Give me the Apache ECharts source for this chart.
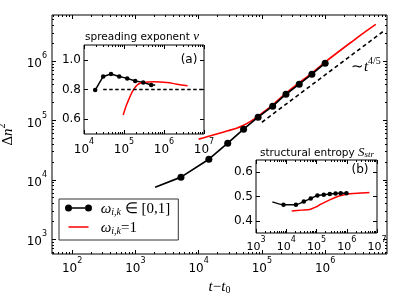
<!DOCTYPE html>
<html><head><meta charset="utf-8">
<script src="https://cdn.jsdelivr.net/npm/echarts@6/dist/echarts.min.js"></script>
<style>html,body{margin:0;padding:0;background:#fff}#c{width:399px;height:301px}</style>
</head><body><div id="c"></div>
<script>
// ---------- main panel data ----------
const mainT_w01 = [2050, 5250, 14500, 28800, 51300, 87000, 148000, 240000, 389000, 617000, 1000000];
const mainV_w01 = [7500, 11070, 22200, 41400, 71300, 113800, 174000, 277000, 409000, 603000, 925000];
const mainT_w1 = [10000, 14450, 19950, 28840, 39810, 51290, 66070, 87100, 112200, 147900, 239900, 389000, 616600, 1000000, 1585000, 2512000, 3981000, 6310000];
const mainV_w1 = [48420, 54330, 59570, 66830, 74130, 83180, 96600, 117500, 144500, 182000, 288400, 431500, 631000, 966000, 1413000, 2042000, 2951000, 4169000];
const guideT = [100000, 8500000];
const guideV = [93300, 3240000];
const annotT = [4400000];
const annotV = [850000];
const mainXTicks = [1e2, 1e3, 1e4, 1e5, 1e6];
const mainYTicks = [1e3, 1e4, 1e5, 1e6];
// ---------- inset (a): spreading exponent ----------
const aT_w01 = [19050, 30200, 47300, 75900, 120200, 190500, 302000, 478600, 602600];
const aV_w01 = [0.796, 0.888, 0.904, 0.888, 0.875, 0.857, 0.848, 0.83, 0.83];
const aT_w1 = [95500, 107150, 117500, 134900, 154900, 181970, 213800, 251200, 302000, 537000, 1175000, 2089000, 3890000];
const aV_w1 = [0.628, 0.67, 0.70, 0.74, 0.776, 0.808, 0.83, 0.842, 0.848, 0.852, 0.848, 0.836, 0.825];
const aGuideT = [30200, 10000000];
const aGuideV = [0.8, 0.8];
const aXTicks = [1e4, 1e5, 1e6, 1e7];
const aYTicks = [0.6, 0.8, 1.0];
// ---------- inset (b): structural entropy ----------
const bT_w01 = [3470, 8130, 20900, 38000, 64600, 107200, 173800, 275400, 426600, 631000, 977000];
const bV_w01 = [0.478, 0.466, 0.466, 0.479, 0.492, 0.504, 0.507, 0.51, 0.512, 0.513, 0.513];
const bT_w1 = [15140, 31600, 60300, 100000, 131800, 199500, 281800, 416900, 602600, 1288000, 2754000, 5623000];
const bV_w1 = [0.44, 0.444, 0.447, 0.458, 0.467, 0.478, 0.487, 0.496, 0.503, 0.511, 0.514, 0.516];
const bXTicks = [1e3, 1e4, 1e5, 1e6, 1e7];
const bYTicks = [0.4, 0.5, 0.6];

const FONT = 'DejaVu Sans';
const SERIF = 'Liberation Serif';

function supLabel(v) { return '{b|10}{s|' + Math.round(Math.log10(v)) + '}'; }
function supRich(fs) {
  return {
    b: {fontFamily: FONT, fontSize: fs, lineHeight: Math.round(fs * 1.5), verticalAlign: 'bottom', color: '#000'},
    s: {fontFamily: FONT, fontSize: Math.round(fs * 0.7), lineHeight: Math.round(fs * 0.8), verticalAlign: 'top', color: '#000'}
  };
}
function logMinors(lo, hi) {
  const out = [];
  for (let e = Math.floor(Math.log10(lo)); e <= Math.ceil(Math.log10(hi)); e++) {
    for (let m = 2; m <= 9; m++) { const v = m * Math.pow(10, e); if (v > lo && v < hi) out.push(v); }
  }
  return out;
}
const tickStyle = {color: '#000', width: 1};
const xAxes = [], yAxes = [];
function addLogAxes(list, dim, grid, min, max, majors, fs, z, margin, extra) {
  const base = {type: 'log', logBase: 10, gridIndex: grid, min: min, max: max, z: z,
    splitLine: {show: false}, axisLine: {show: false}};
  const minors = logMinors(min, max);
  const p1 = dim === 'x' ? 'bottom' : 'left', p2 = dim === 'x' ? 'top' : 'right';
  const idx = list.length;
  list.push(Object.assign({}, base, {position: p1,
    axisTick: {inside: true, length: 4, customValues: majors, lineStyle: tickStyle},
    axisLabel: {customValues: majors, formatter: supLabel, rich: supRich(fs), margin: margin}}, extra || {}));
  list.push(Object.assign({}, base, {position: p1, axisTick: {inside: true, length: 2, customValues: minors, lineStyle: tickStyle}, axisLabel: {show: false}}));
  list.push(Object.assign({}, base, {position: p2, axisTick: {inside: true, length: 4, customValues: majors, lineStyle: tickStyle}, axisLabel: {show: false}}));
  list.push(Object.assign({}, base, {position: p2, axisTick: {inside: true, length: 2, customValues: minors, lineStyle: tickStyle}, axisLabel: {show: false}}));
  return idx;
}
function addValueY(grid, min, max, ticks, fs, z, margin) {
  const base = {type: 'value', gridIndex: grid, min: min, max: max, z: z, splitLine: {show: false}, axisLine: {show: false}};
  const idx = yAxes.length;
  yAxes.push(Object.assign({}, base, {position: 'left',
    axisTick: {inside: true, length: 4, customValues: ticks, lineStyle: tickStyle},
    axisLabel: {customValues: ticks, formatter: v => v.toFixed(1), fontFamily: FONT, fontSize: fs, color: '#000', margin: margin}}));
  yAxes.push(Object.assign({}, base, {position: 'right',
    axisTick: {inside: true, length: 4, customValues: ticks, lineStyle: tickStyle}, axisLabel: {show: false}}));
  return idx;
}

const serifRich = {
  i: {fontFamily: SERIF, fontStyle: 'italic', fontSize: 15, lineHeight: 18, verticalAlign: 'bottom', color: '#000'},
  m: {fontFamily: SERIF, fontSize: 15, lineHeight: 18, verticalAlign: 'bottom', color: '#000'},
  s: {fontFamily: SERIF, fontSize: 10, lineHeight: 10, verticalAlign: 'bottom', color: '#000'},
  si: {fontFamily: SERIF, fontStyle: 'italic', fontSize: 10, lineHeight: 10, verticalAlign: 'bottom', color: '#000'},
  p: {fontFamily: SERIF, fontSize: 10, lineHeight: 10, verticalAlign: 'top', color: '#000'}
};

const mx = addLogAxes(xAxes, 'x', 0, 48, 9.5e6, mainXTicks, 12, 1, 3,
  {name: '{i|t}{m|−}{i|t}{s|0}', nameLocation: 'middle', nameGap: 22, nameTextStyle: {rich: serifRich}});
const my = addLogAxes(yAxes, 'y', 0, 560, 6e6, mainYTicks, 12, 1, 5,
  {name: '{m|Δ}{i|n}{p|2}', nameLocation: 'middle', nameGap: 31, nameTextStyle: {rich: serifRich}});
const ax = addLogAxes(xAxes, 'x', 1, 1e4, 1e7, aXTicks, 12, 6, 4);
const ay = addValueY(1, 0.5, 1.1, aYTicks, 12, 6, 3);
const bx = addLogAxes(xAxes, 'x', 2, 1e3, 1e7, bXTicks, 11, 6, 3);
const by = addValueY(2, 0.35, 0.65, bYTicks, 12, 6, 3);

const zip = (a, b) => a.map((t, i) => [t, b[i]]);
const blackIcon = 'path://M0,3.5 a3.5,3.5 0 1,0 7,0 a3.5,3.5 0 1,0 -7,0 Z M7,2.75 L20,2.75 L20,4.25 L7,4.25 Z M20,3.5 a3.5,3.5 0 1,0 7,0 a3.5,3.5 0 1,0 -7,0 Z';
const redIcon = 'path://M0,0 L0.01,0 L0.01,0.01 Z M26.99,6.99 L27,6.99 L27,7 Z M3.5,2.75 L23.5,2.75 L23.5,4.25 L3.5,4.25 Z';

const option = {
  animation: false,
  backgroundColor: '#fff',
  grid: [
    {left: 52, top: 15, width: 335, height: 239, show: true, borderColor: '#000', borderWidth: 1, backgroundColor: '#fff', z: 0, outerBoundsMode: 'none'},
    {left: 84, top: 45, width: 120, height: 89, show: true, borderColor: '#000', borderWidth: 1, backgroundColor: '#fff', z: 5, outerBoundsMode: 'none'},
    {left: 256, top: 160, width: 121, height: 73, show: true, borderColor: '#000', borderWidth: 1, backgroundColor: '#fff', z: 5, outerBoundsMode: 'none'}
  ],
  xAxis: xAxes,
  yAxis: yAxes,
  legend: {
    left: 59, top: 199, orient: 'vertical', padding: [3, 8, 4, 6], itemGap: 4,
    itemWidth: 27, itemHeight: 7, borderColor: '#333', borderWidth: 1, borderRadius: 0,
    backgroundColor: '#fff', z: 8,
    data: [{name: 'w01', icon: blackIcon}, {name: 'w1', icon: redIcon}],
    formatter: n => n === 'w01' ? '{m| }{i|ω}{si|i,k}{m| ∈ [0,1]}' : '{m| }{i|ω}{si|i,k}{m|=1}',
    textStyle: {color: '#000', rich: serifRich}
  },
  series: [
    {name: 'w01', type: 'line', xAxisIndex: mx, yAxisIndex: my,
     data: zip(mainT_w01, mainV_w01).map((p, i) => i === 0 ? {value: p, symbol: 'none'} : p),
     symbol: 'circle', symbolSize: 7, lineStyle: {color: '#000', width: 1.7}, itemStyle: {color: '#000'}, z: 3},
    {name: 'w1', type: 'line', xAxisIndex: mx, yAxisIndex: my, data: zip(mainT_w1, mainV_w1),
     symbol: 'none', smooth: 0.3, lineStyle: {color: '#ff0000', width: 1.6}, itemStyle: {color: '#ff0000'}, z: 2},
    {name: 'guide', type: 'line', xAxisIndex: mx, yAxisIndex: my, data: zip(guideT, guideV),
     symbol: 'none', lineStyle: {color: '#000', width: 1.6, type: [4, 3]}, z: 2,
     markPoint: {symbol: 'circle', symbolSize: 0, silent: true,
       data: [{coord: [annotT[0], annotV[0]]}],
       label: {show: true, position: 'inside', formatter: '{m|∼}{i|t}{p|4/5}', rich: serifRich}}},
    {name: 'a_w01', type: 'line', xAxisIndex: ax, yAxisIndex: ay,
     data: zip(aT_w01, aV_w01).map((p, i) => i === aT_w01.length - 1 ? {value: p, symbol: 'none'} : p),
     symbol: 'circle', symbolSize: 4.5, lineStyle: {color: '#000', width: 1.5}, itemStyle: {color: '#000'}, z: 7},
    {name: 'a_w1', type: 'line', xAxisIndex: ax, yAxisIndex: ay, data: zip(aT_w1, aV_w1),
     symbol: 'none', smooth: 0.4, lineStyle: {color: '#ff0000', width: 1.5}, z: 7},
    {name: 'a_guide', type: 'line', xAxisIndex: ax, yAxisIndex: ay, data: zip(aGuideT, aGuideV),
     symbol: 'none', lineStyle: {color: '#000', width: 1.5, type: [3.5, 2.5]}, z: 7},
    {name: 'b_w01', type: 'line', xAxisIndex: bx, yAxisIndex: by,
     data: zip(bT_w01, bV_w01).map((p, i) => i === 0 ? {value: p, symbol: 'none'} : p),
     symbol: 'circle', symbolSize: 4.5, smooth: 0.2, lineStyle: {color: '#000', width: 1.5}, itemStyle: {color: '#000'}, z: 7},
    {name: 'b_w1', type: 'line', xAxisIndex: bx, yAxisIndex: by, data: zip(bT_w1, bV_w1),
     symbol: 'none', smooth: 0.3, lineStyle: {color: '#ff0000', width: 1.5}, z: 7}
  ],
  graphic: [
    {type: 'text', x: 142, y: 37, z: 10, style: {text: '{n|spreading exponent }{g|ν}', align: 'center', verticalAlign: 'middle',
      rich: {n: {fontFamily: FONT, fontSize: 10.5, fill: '#000'}, g: {fontFamily: SERIF, fontStyle: 'italic', fontSize: 13, fill: '#000'}}}},
    {type: 'text', x: 317, y: 152, z: 10, style: {text: '{n|structural entropy }{g|S}{s|str}', align: 'center', verticalAlign: 'middle',
      rich: {n: {fontFamily: FONT, fontSize: 10.5, lineHeight: 14, verticalAlign: 'bottom', fill: '#000'},
             g: {fontFamily: SERIF, fontStyle: 'italic', fontSize: 13, lineHeight: 14, verticalAlign: 'bottom', fill: '#000'},
             s: {fontFamily: SERIF, fontStyle: 'italic', fontSize: 9, lineHeight: 9, verticalAlign: 'bottom', fill: '#000'}}}},
    {type: 'text', x: 189, y: 60, z: 10, style: {text: '(a)', font: '12px DejaVu Sans', fill: '#000', align: 'center', verticalAlign: 'middle'}},
    {type: 'text', x: 360, y: 170, z: 10, style: {text: '(b)', font: '12px DejaVu Sans', fill: '#000', align: 'center', verticalAlign: 'middle'}}
  ]
};
const chart = echarts.init(document.getElementById('c'), null, {renderer: 'canvas'});
chart.setOption(option);
</script></body></html>
